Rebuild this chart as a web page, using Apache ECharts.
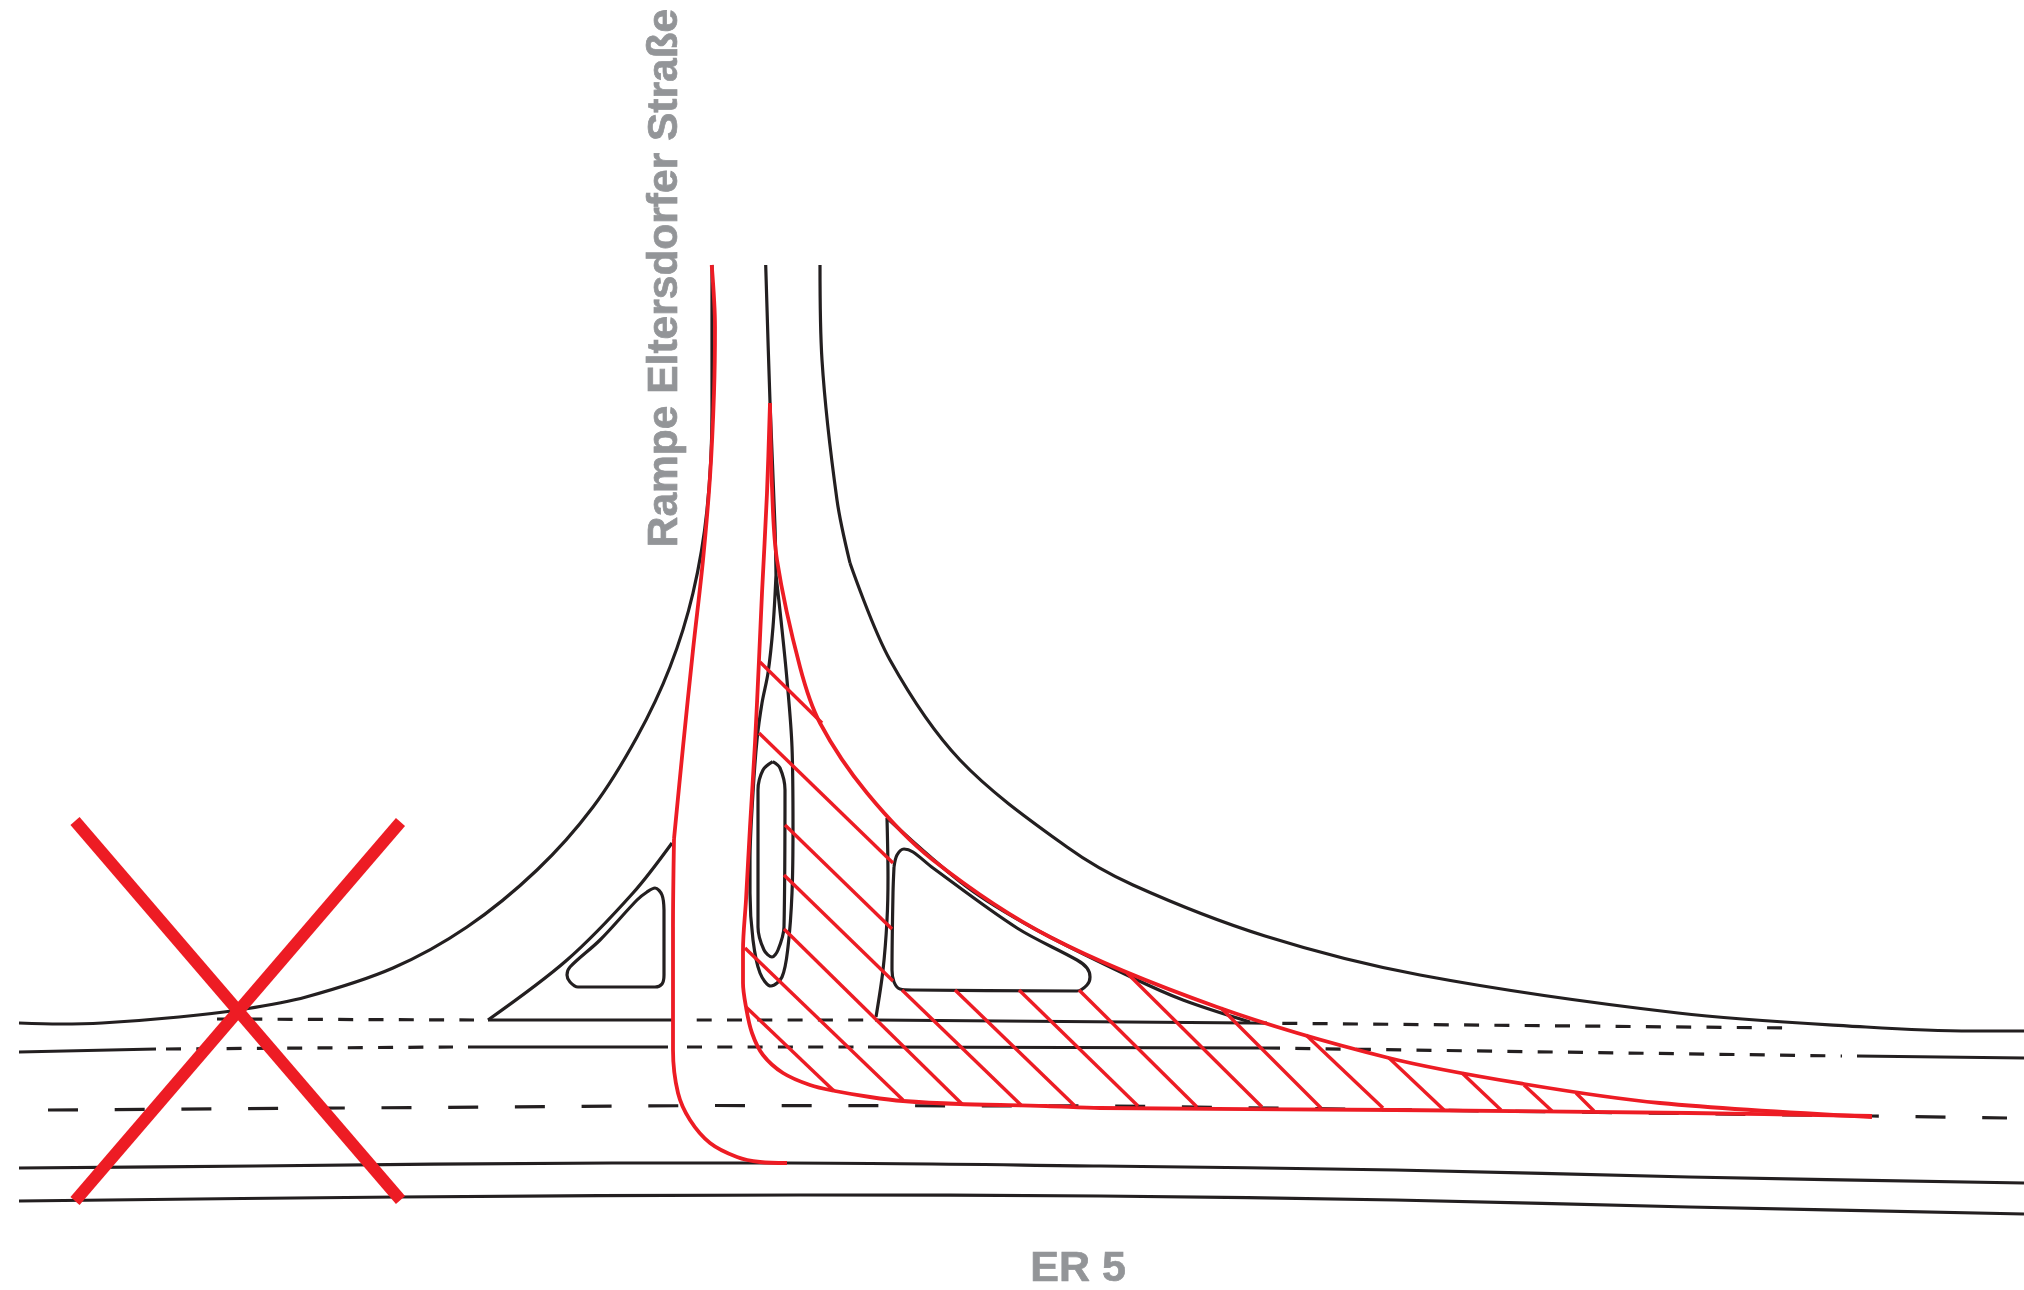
<!DOCTYPE html>
<html><head><meta charset="utf-8">
<style>html,body{margin:0;padding:0;background:#fff}#c{width:2024px;height:1290px}</style>
<script src="https://cdn.jsdelivr.net/npm/echarts@6/dist/echarts.min.js"></script>
</head><body><div id="c"></div>
<script>
const BLACK='#231f20', RED='#ed1c24', GREY='#939598';
// Road outlines, read from the plan (x, y in picture units)
const roadLeft=[[712,265],[712,410],[707,510],[693,593],[670,667],[637,737],[593,807],[537,870],[467,927],[393,968],[306,997],[245,1009],[179,1017],[102,1023],[60,1024],[19,1023]];
const roadRightA=[[820,265],[822,360],[837,500],[850,563]];
const roadRightB=[[850,563],[890,660],[960,760],[1067,847],[1133,885],[1265,936],[1420,975],[1678,1013],[1866,1027],[1972,1031],[2024,1031]];
const centreLine=[[765.7,265],[770,402],[775,527],[776,575]];
const islandOuter=[[776,575],[781,620],[787,680],[792,747],[793,827],[792,893],[788,947],[782,977],[771,986],[760,973],[753,940],[750,893],[750,860],[753,793],[757,740],[762,703],[768,673],[773,627],[776,575]];
const islandPill=[[772.7,761.7],[780,768],[785,790],[784,927],[778,950],[772,957],[764,950],[758,927],[758,790],[763,770],[772.7,761.7]];
const wedgeStem=[[887,818],[888,877],[887,920],[883,970],[876,1017]];
const wedgeEdge=[[887,818],[967,887],[1033,928],[1133,978],[1183,1000],[1250,1022]];
const islandRight=[[894,867],[897,855],[904,849],[913,852],[933,868],[1017,928],[1077,960],[1087,968],[1090,977],[1087,985],[1077,991],[913,990],[900,989],[894,982],[892,970],[893,893],[894,867]];
const islandLeft=[[664,910],[662,895],[655,888],[647,892],[637,900],[600,940],[570,967],[567,975],[570,982],[578,987],[655,987],[662,984],[664,975],[664,960],[664,910]];
const slipLeft=[[488,1020],[567,960],[633,893],[672,843]];
const stopTopA=[[488,1020],[673,1020]];
const stopTopB=[[875,1020],[1252,1023]];
const stopMidA=[[19,1052],[156,1049]];
const stopMidB=[[468,1047],[668,1047]];
const stopMidC=[[868,1047],[1265,1048]];
const stopMidD=[[1857,1056],[2024,1058]];
const edgeBottomA=[[19,1168],[255,1166],[612,1163],[787,1163],[1100,1166],[1395,1170],[1689,1177],[2024,1183]];
const edgeBottomB=[[19,1201],[398,1197],[800,1195],[1100,1196],[1395,1200],[1689,1207],[2024,1214]];
// Dashed markings
const dashTopA=[[217,1019],[474,1020]];
const dashTopB=[[696.7,1020],[875,1020]];
const dashTopC=[[1252,1023],[1792,1028]];
const dashMidA=[[166,1049],[453,1047]];
const dashMidB=[[687,1047],[854,1047]];
const dashMidC=[[1265,1048],[1842,1056]];
const dashCentre=[[48,1110],[714,1105.5],[1115,1106],[1872,1116],[2007,1118]];
// Red overlay
const redRampA=[[711.7,265],[715,327],[714,393],[710,477],[703,560],[693,650],[683,747],[674,839]];
const redRampB=[[674,839],[673,927],[673,1000],[673,1050],[678,1093],[690,1120],[710,1143],[737,1157],[760,1162],[787,1163]];
const redInner=[[770,403],[767,493],[762,593],[759,660],[755,743],[750,827],[746,900],[743,950],[743,983],[746,1007],[752,1033],[763,1055],[783,1073],[810,1085],[835,1091],[870,1097],[903,1101],[960,1104],[1046,1106],[1100,1108],[1395,1110],[1689,1113],[1872,1116]];
const redOuter=[[770,403],[772,487],[777,560],[800,667],[820,723],[867,793],[933,860],[1050,937],[1217,1007],[1389,1058],[1524,1084],[1660,1103],[1872,1117]];
const hatch=[
 [[760,662],[822,723]],[[759,733],[893,863]],[[785,825],[892,929]],[[784,875],[893,981]],
 [[746,1007],[834,1091]],[[745,948],[903,1100]],[[784,929],[962,1104]],[[902,990],[1022,1106]],
 [[955,990],[1075,1106]],[[1019,990],[1138,1106]],[[1079,990],[1197,1107]],[[1127,973],[1262,1107]],
 [[1221,1008],[1321,1108]],[[1306,1035],[1383,1108]],[[1389,1058],[1444,1110]],[[1462,1073],[1501,1110]],
 [[1524,1085],[1552,1111]],[[1576,1093],[1594,1111]]];
const crossA=[[75,821],[400.5,1200]];
const crossB=[[400.5,822],[75,1201]];
// Labels
const labelRamp=[{name:'Rampe Eltersdorfer Straße',value:[665.5,278]}];
const labelRoad=[{name:'ER 5',value:[1078,1269]}];

const line=(data,color,width,opt={})=>({type:'line',data,symbol:'none',silent:true,animation:false,smooth:opt.smooth||false,
  lineStyle:{color,width,type:opt.dash||'solid',cap:'butt',join:'round'},z:opt.z||2});
const S=0.33;
const textStyle={show:true,position:'inside',formatter:'{b}',align:'center',verticalAlign:'middle',color:GREY,opacity:1,fontFamily:'Liberation Sans',fontWeight:'bold',textBorderColor:GREY,textBorderWidth:0.7};
const series=[
 ...[roadLeft,roadRightA,roadRightB,centreLine,islandOuter,islandPill,wedgeStem,wedgeEdge,islandRight,islandLeft,slipLeft,edgeBottomA,edgeBottomB].map(d=>line(d,BLACK,3.2,{smooth:S})),
 ...[stopTopA,stopTopB,stopMidA,stopMidB,stopMidC,stopMidD].map(d=>line(d,BLACK,3.2)),
 ...[dashTopA,dashTopB,dashTopC,dashMidA,dashMidB,dashMidC].map(d=>line(d,BLACK,3.2,{dash:[15,15.3]})),
 line(dashCentre,BLACK,3.2,{dash:[30,36.7]}),
 ...hatch.map(d=>line(d,RED,3.4,{z:3})),
 ...[redRampA,redRampB,redInner,redOuter].map(d=>line(d,RED,3.8,{smooth:S,z:4})),
 line(crossA,RED,12,{z:5}),line(crossB,RED,12,{z:5}),
 {type:'scatter',data:labelRamp,symbolSize:0,silent:true,animation:false,z:6,itemStyle:{opacity:1},label:{...textStyle,rotate:90,fontSize:42.5}},
 {type:'scatter',data:labelRoad,symbolSize:0,silent:true,animation:false,z:6,itemStyle:{opacity:1},label:{...textStyle,fontSize:43}}
];
const chart=echarts.init(document.getElementById('c'),null,{renderer:'canvas'});
chart.setOption({animation:false,backgroundColor:'#fff',tooltip:{show:false},legend:{show:false},
 grid:{left:0,right:0,top:0,bottom:0,containLabel:false},
 xAxis:{type:'value',min:0,max:2024,show:false},
 yAxis:{type:'value',min:0,max:1290,inverse:true,show:false},
 series});
</script></body></html>
